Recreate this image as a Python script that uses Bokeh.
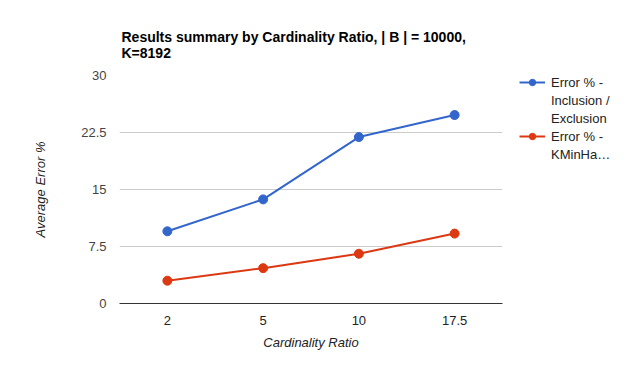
from bokeh.plotting import figure
from bokeh.layouts import row
from bokeh.models import Legend, LegendItem, FixedTicker, Range1d
from bokeh.embed import file_html
from bokeh.resources import INLINE

categories = ["2", "5", "10", "17.5"]
inclusion_exclusion = [9.5, 13.7, 21.9, 24.8]
kminhash = [3.0, 4.65, 6.55, 9.2]
y_ticks = [0, 7.5, 15, 22.5, 30]
series_label_lines = [["Error % -", "Inclusion /", "Exclusion"], ["Error % -", "KMinHa\u2026"]]
series_colors = ["#3366cc", "#dc3912"]
title_text = "Results summary by Cardinality Ratio, | B | = 10000,\nK=8192"
x_title = "Cardinality Ratio"
y_title = "Average Error %"

FONT = "Liberation Sans"
NAN = float("nan")

p = figure(width=510, height=379, x_range=categories, y_range=Range1d(0, 30),
           output_backend="svg", toolbar_location=None,
           min_border_left=119, min_border_right=8, min_border_top=75, min_border_bottom=76)
p.outline_line_color = None
p.background_fill_color = "white"
p.border_fill_color = "white"

# title
p.title.text = title_text
p.title.align = "left"
p.title.offset = 2
p.title.text_font = FONT
p.title.text_font_size = "14px"
p.title.text_font_style = "bold"
p.title.text_color = "#000000"
p.title.standoff = 30

# grid
p.xgrid.grid_line_color = None
p.ygrid.grid_line_color = "#cccccc"
p.ygrid.ticker = FixedTicker(ticks=y_ticks)

# y axis
p.yaxis.ticker = FixedTicker(ticks=y_ticks)
p.yaxis.major_label_overrides = {0: "0", 7.5: "7.5", 15: "15", 22.5: "22.5", 30: "30"}
p.yaxis.axis_line_color = None
p.yaxis.major_tick_line_color = None
p.yaxis.minor_tick_line_color = None
p.yaxis.major_tick_out = 0
p.yaxis.major_tick_in = 0
p.yaxis.major_label_standoff = 13
p.yaxis.major_label_text_font = FONT
p.yaxis.major_label_text_font_size = "13px"
p.yaxis.major_label_text_color = "#444444"
p.yaxis.axis_label = y_title
p.yaxis.axis_label_text_font = FONT
p.yaxis.axis_label_text_font_style = "italic"
p.yaxis.axis_label_text_font_size = "13px"
p.yaxis.axis_label_text_color = "#222222"
p.yaxis.axis_label_standoff = 30

# x axis
p.xaxis.axis_line_color = "#333333"
p.xaxis.axis_line_width = 1
p.xaxis.major_tick_line_color = None
p.xaxis.minor_tick_line_color = None
p.xaxis.major_tick_out = 0
p.xaxis.major_tick_in = 0
p.xaxis.major_label_standoff = 12
p.xaxis.major_label_text_font = FONT
p.xaxis.major_label_text_font_size = "13px"
p.xaxis.major_label_text_color = "#222222"
p.xaxis.axis_label = x_title
p.xaxis.axis_label_text_font = FONT
p.xaxis.axis_label_text_font_style = "italic"
p.xaxis.axis_label_text_font_size = "13px"
p.xaxis.axis_label_text_color = "#222222"
p.xaxis.axis_label_standoff = 7

for vals, col in zip([inclusion_exclusion, kminhash], series_colors):
    p.line(categories, vals, line_color=col, line_width=2)
    p.scatter(categories, vals, size=9, fill_color=col, line_color=col)

# legend panel (separate figure so the legend is not clipped by the plot frame)
pl = figure(width=115, height=379, x_range=Range1d(0, 1), y_range=Range1d(0, 1),
            output_backend="svg", toolbar_location=None,
            min_border_left=0, min_border_right=0, min_border_top=0, min_border_bottom=0)
pl.axis.visible = False
pl.grid.visible = False
pl.outline_line_color = None
pl.border_fill_color = "white"
pl.background_fill_color = "white"

items = []
for lines, col in zip(series_label_lines, series_colors):
    r1 = pl.line(x=[NAN], y=[NAN], line_color=col, line_width=2)
    r2 = pl.scatter(x=[NAN], y=[NAN], size=9, fill_color=col, line_color=col)
    items.append(LegendItem(label=lines[0], renderers=[r1, r2]))
    for extra in lines[1:]:
        items.append(LegendItem(label=extra, renderers=[]))

legend = Legend(items=items, location=(9, 141), orientation="vertical",
                border_line_color=None, background_fill_alpha=0,
                padding=0, margin=0, spacing=2, glyph_width=26, glyph_height=16,
                label_standoff=6, label_text_font=FONT, label_text_font_size="13px",
                label_text_color="#222222", label_height=16)
pl.add_layout(legend, "center")

layout = row(p, pl)
open("out.html", "w").write(file_html(layout, INLINE))
